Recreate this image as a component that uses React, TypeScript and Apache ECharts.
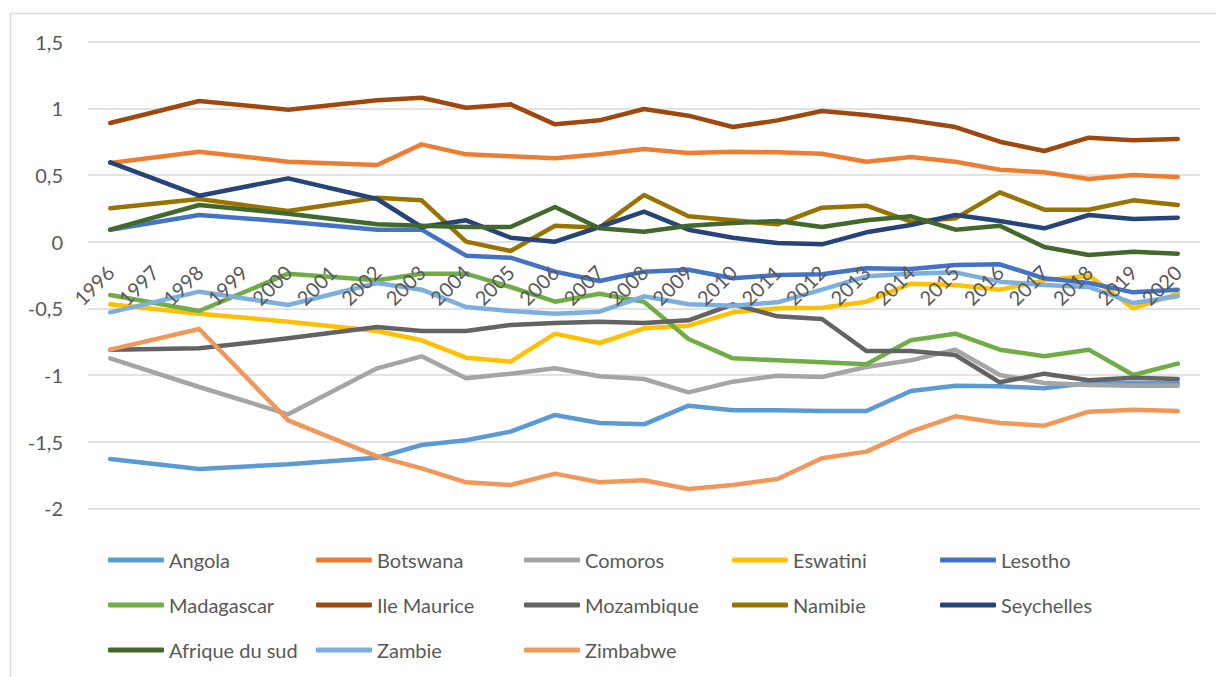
import React, { useEffect, useRef } from "react";
import * as echarts from "echarts";

const years = ["1996","1997","1998","1999","2000","2001","2002","2003","2004","2005","2006","2007","2008","2009","2010","2011","2012","2013","2014","2015","2016","2017","2018","2019","2020"];

const N = null;
const angola = [-1.63, N, -1.705, N, -1.67, N, -1.62, -1.525, -1.49, -1.425, -1.30, -1.36, -1.37, -1.23, -1.265, -1.265, -1.27, -1.27, -1.12, -1.08, -1.085, -1.10, -1.06, -1.06, -1.06];
const botswana = [0.59, N, 0.675, N, 0.60, N, 0.575, 0.73, 0.655, 0.64, 0.625, 0.655, 0.695, 0.665, 0.675, 0.67, 0.66, 0.60, 0.635, 0.60, 0.54, 0.52, 0.47, 0.50, 0.485];
const comoros = [-0.875, N, -1.09, N, -1.295, N, -0.95, -0.86, -1.025, -0.99, -0.95, -1.01, -1.03, -1.13, -1.05, -1.005, -1.015, -0.94, -0.89, -0.81, -1.0, -1.06, -1.075, -1.08, -1.08];
const eswatini = [-0.47, N, -0.54, N, -0.60, N, -0.67, -0.74, -0.87, -0.90, -0.69, -0.76, -0.65, -0.63, -0.53, -0.50, -0.495, -0.45, -0.315, -0.325, -0.36, -0.29, -0.255, -0.50, -0.39];
const lesotho = [0.09, N, 0.20, N, 0.15, N, 0.09, 0.09, -0.105, -0.12, -0.225, -0.295, -0.225, -0.21, -0.275, -0.25, -0.245, -0.20, -0.205, -0.175, -0.17, -0.275, -0.31, -0.38, -0.36];
const madagascar = [-0.40, N, -0.52, N, -0.24, N, -0.29, -0.24, -0.24, -0.34, -0.45, -0.39, -0.45, -0.73, -0.875, -0.89, -0.905, -0.92, -0.74, -0.69, -0.81, -0.86, -0.81, -1.0, -0.915];
const ileMaurice = [0.89, N, 1.055, N, 0.99, N, 1.06, 1.08, 1.005, 1.03, 0.88, 0.91, 0.995, 0.945, 0.86, 0.91, 0.98, 0.95, 0.91, 0.86, 0.75, 0.68, 0.78, 0.76, 0.77];
const mozambique = [-0.81, N, -0.80, N, -0.725, N, -0.64, -0.67, -0.67, -0.625, -0.61, -0.60, -0.61, -0.59, -0.47, -0.56, -0.58, -0.82, -0.82, -0.85, -1.055, -0.99, -1.04, -1.02, -1.03];
const namibie = [0.25, N, 0.32, N, 0.23, N, 0.33, 0.31, 0.0, -0.07, 0.12, 0.105, 0.35, 0.19, 0.16, 0.13, 0.255, 0.27, 0.15, 0.175, 0.37, 0.24, 0.24, 0.31, 0.275];
const seychelles = [0.595, N, 0.345, N, 0.475, N, 0.32, 0.11, 0.16, 0.03, 0.0, 0.11, 0.225, 0.09, 0.03, -0.01, -0.02, 0.07, 0.125, 0.20, 0.155, 0.10, 0.20, 0.17, 0.18];
const afriqueDuSud = [0.09, N, 0.275, N, 0.21, N, 0.13, 0.12, 0.11, 0.11, 0.26, 0.10, 0.075, 0.12, 0.14, 0.155, 0.11, 0.16, 0.19, 0.09, 0.12, -0.04, -0.10, -0.075, -0.09];
const zambie = [-0.53, N, -0.375, N, -0.475, N, -0.31, -0.36, -0.49, -0.52, -0.54, -0.525, -0.41, -0.47, -0.48, -0.455, -0.36, -0.26, -0.24, -0.23, -0.30, -0.325, -0.34, -0.46, -0.41];
const zimbabwe = [-0.81, N, -0.655, N, -1.34, N, -1.61, -1.70, -1.805, -1.825, -1.74, -1.805, -1.79, -1.855, -1.825, -1.78, -1.625, -1.575, -1.425, -1.31, -1.36, -1.38, -1.275, -1.26, -1.27];

const seriesNames = ["Angola", "Botswana", "Comoros", "Eswatini", "Lesotho", "Madagascar", "Ile Maurice", "Mozambique", "Namibie", "Seychelles", "Afrique du sud", "Zambie", "Zimbabwe"];
const seriesValues = [angola, botswana, comoros, eswatini, lesotho, madagascar, ileMaurice, mozambique, namibie, seychelles, afriqueDuSud, zambie, zimbabwe];
const seriesColors = ["#5B9BD5", "#ED7D31", "#A5A5A5", "#FFC000", "#4472C4", "#70AD47", "#9E480E", "#636363", "#997300", "#264478", "#43682B", "#7CAFDD", "#F1975A"];

const FONT = "Lato, 'Open Sans', sans-serif";
const TXT = "#595959";

const GRID_TOP = 41.7;
const GRID_BOTTOM = 168.7;
const Y_MIN = -2;
const Y_MAX = 1.5;

export default function App() {
  const ref = useRef<HTMLDivElement>(null);
  useEffect(() => {
    document.body.style.margin = "0";
    if (!ref.current) return;
    const chart = echarts.init(ref.current, undefined, { renderer: "svg" });
    const plotH = 677 - GRID_TOP - GRID_BOTTOM;
    // distance from grid bottom to the zero line, so the category labels sit on y = 0
    const zeroOffset = -plotH * (0 - Y_MIN) / (Y_MAX - Y_MIN);
    const legends = seriesNames.map((name, i) => ({
      data: [name],
      left: 108 + (i % 5) * 208,
      top: 560 + Math.floor(i / 5) * 45 - 12,
      icon: "roundRect",
      itemWidth: 56,
      itemHeight: 5,
      padding: 0,
      textStyle: { color: TXT, fontSize: 20, fontFamily: FONT, lineHeight: 24 },
    }));
    chart.setOption({
      animation: false,
      backgroundColor: "#ffffff",
      graphic: [
        {
          type: "rect",
          shape: { x: 10.5, y: 13.5, width: 1400, height: 900 },
          style: { fill: "none", stroke: "#D9D9D9", lineWidth: 1.5 },
          silent: true,
        },
      ],
      legend: legends,
      grid: { left: 88, right: 16, top: GRID_TOP, bottom: GRID_BOTTOM, containLabel: false },
      xAxis: {
        type: "category",
        data: years,
        boundaryGap: true,
        offset: zeroOffset,
        zlevel: 1,
        z: 50,
        axisLine: { show: false, onZero: false },
        axisTick: { show: false },
        axisLabel: {
          interval: 0,
          rotate: 45,
          margin: 27,
          color: TXT,
          fontSize: 20,
          fontFamily: FONT,
        },
      },
      yAxis: {
        type: "value",
        min: Y_MIN,
        max: Y_MAX,
        interval: 0.5,
        axisLine: { show: false },
        axisTick: { show: false },
        splitLine: { lineStyle: { color: "#D9D9D9", width: 1.5 } },
        axisLabel: {
          margin: 25,
          color: TXT,
          fontSize: 20,
          fontFamily: FONT,
          formatter: (v: number) => String(v).replace(".", ","),
        },
      },
      series: seriesNames.map((name, i) => ({
        name,
        type: "line",
        data: seriesValues[i],
        color: seriesColors[i],
        z: 1,
        connectNulls: true,
        showSymbol: false,
        symbol: "none",
        lineStyle: { width: 4.5, color: seriesColors[i], cap: "round", join: "round" },
      })),
    });
    return () => chart.dispose();
  }, []);
  return <div ref={ref} style={{ width: 1216, height: 677 }} />;
}
